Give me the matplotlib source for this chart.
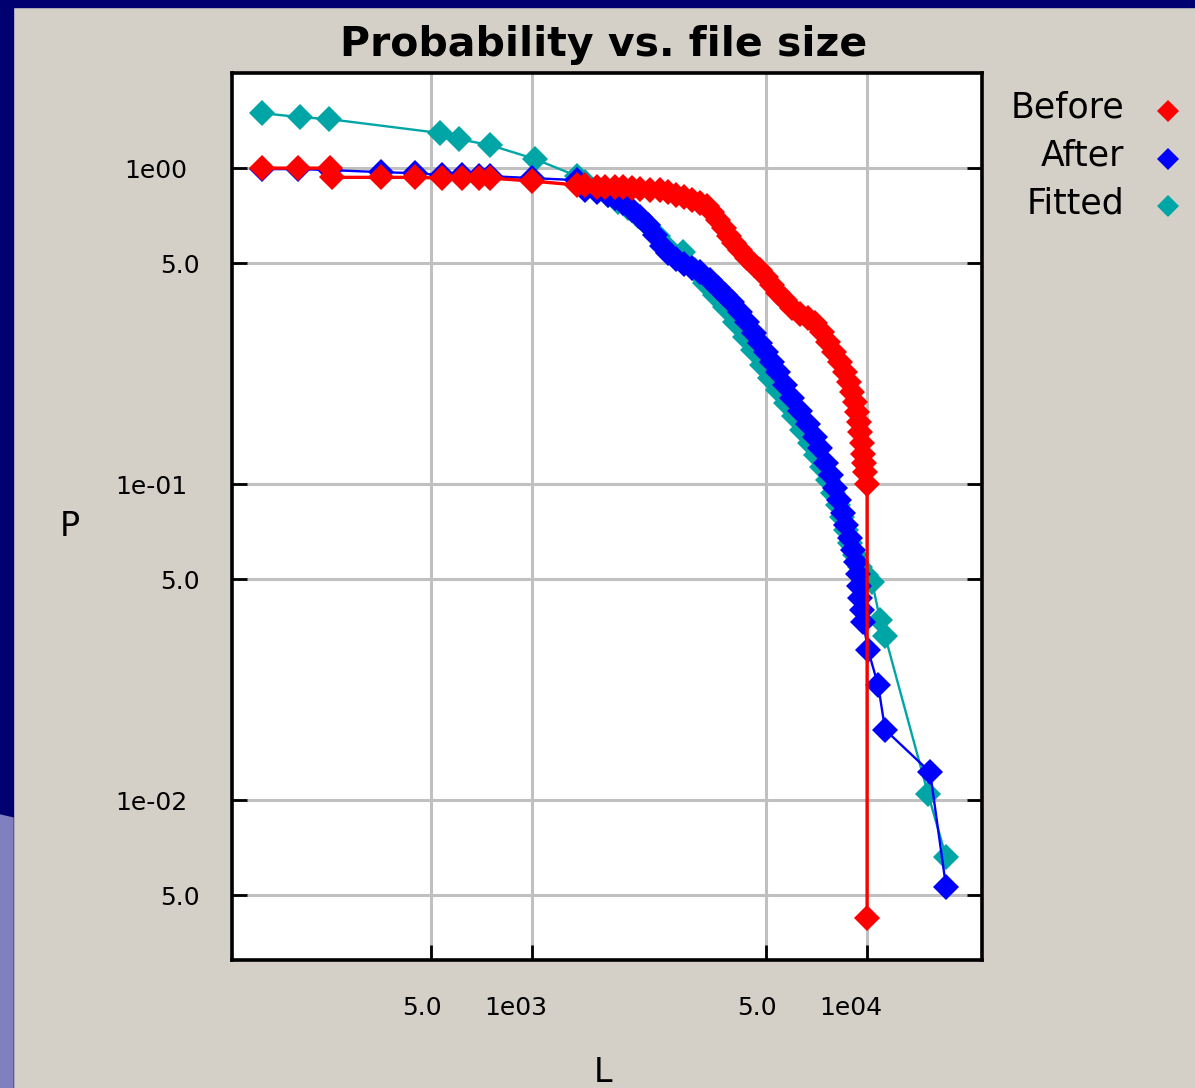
import matplotlib
matplotlib.use("Agg")
import matplotlib.pyplot as plt
from matplotlib.lines import Line2D
from matplotlib.patches import Rectangle, Polygon
from matplotlib.transforms import ScaledTranslation

# ---------------- data ----------------
before_L = [156, 200, 249, 253, 354, 448, 539, 618, 695, 750, 1000, 1362, 1439, 1563,
            1652, 1769, 1869, 1988, 2101, 2250, 2411, 2547, 2691, 2843, 3004, 3172,
            3330, 3446, 3592, 3743, 3874, 4009, 4178, 4384, 4600, 4794, 4995, 5205,
            5424, 5691, 5972, 6310, 6667, 6996, 7340, 7649, 7971, 8307, 8598, 8838,
            9021, 9209, 9336, 9465, 9530, 9663, 9729, 9795, 9863, 10000, 10000]
before_P = [1.0, 1.0, 1.0, 0.935, 0.935, 0.935, 0.93, 0.93, 0.93, 0.93, 0.91, 0.884,
            0.884, 0.871, 0.871, 0.871, 0.871, 0.864, 0.858, 0.852, 0.852, 0.839,
            0.822, 0.810, 0.792, 0.775, 0.758, 0.726, 0.685, 0.646, 0.609, 0.579,
            0.550, 0.519, 0.493, 0.476, 0.452, 0.426, 0.402, 0.382, 0.360, 0.345,
            0.335, 0.323, 0.303, 0.281, 0.262, 0.243, 0.226, 0.210, 0.195, 0.182,
            0.169, 0.157, 0.146, 0.135, 0.125, 0.117, 0.109, 0.100, 0.00423]

after_L = [156, 200, 249, 354, 448, 539, 618, 695, 750, 1000, 1362, 1439, 1563, 1686,
           1769, 1869, 1988, 2101, 2220, 2329, 2444, 2547, 2691, 2843, 3004, 3172,
           3399, 3592, 3769, 3954, 4178, 4384, 4600, 4794, 4995, 5205, 5424, 5691,
           5972, 6310, 6667, 6996, 7237, 7544, 7807, 8025, 8250, 8479, 8656, 8898,
           9083, 9272, 9400, 9465, 9530, 9663, 9729, 10070, 10790, 11320, 15420, 17210]
after_P = [0.993, 0.993, 0.986, 0.971, 0.964, 0.950, 0.950, 0.943, 0.943, 0.930, 0.916,
           0.852, 0.839, 0.822, 0.804, 0.775, 0.736, 0.700, 0.660, 0.614, 0.566,
           0.538, 0.515, 0.497, 0.483, 0.469, 0.442, 0.417, 0.396, 0.377, 0.350,
           0.326, 0.300, 0.279, 0.262, 0.243, 0.226, 0.206, 0.187, 0.171, 0.155,
           0.141, 0.130, 0.117, 0.107, 0.0971, 0.0890, 0.0809, 0.0742, 0.0675,
           0.0618, 0.0566, 0.0519, 0.0475, 0.0436, 0.0399, 0.0366, 0.0298, 0.0231,
           0.0167, 0.01226, 0.00531]

fitted_L = [156, 202, 248, 531, 605, 750, 1021, 1362, 1439, 1563, 1686, 1806, 1935,
            2073, 2220, 2377, 2547, 2823, 3066, 3284, 3518, 3769, 4036, 4323, 4567,
            4860, 5134, 5424, 5731, 6055, 6397, 6759, 7044, 7340, 7649, 7917, 8193,
            8421, 8656, 8898, 9209, 9530, 9931, 10350, 10940, 11320, 15210, 17210]
fitted_P = [1.493, 1.450, 1.429, 1.291, 1.235, 1.182, 1.068, 0.943, 0.903, 0.864,
            0.822, 0.781, 0.747, 0.705, 0.660, 0.609, 0.558, 0.542, 0.476, 0.433,
            0.396, 0.363, 0.326, 0.292, 0.265, 0.238, 0.216, 0.198, 0.180, 0.164,
            0.148, 0.135, 0.1235, 0.1132, 0.1030, 0.0937, 0.0858, 0.0786, 0.0715,
            0.0650, 0.0596, 0.0546, 0.0515, 0.0490, 0.0371, 0.0330, 0.01045, 0.0066]

series_names = ["Before", "After", "Fitted"]
series_colors = ["#ff0000", "#0000ff", "#00a5a5"]

x_major = [1000, 10000]
x_major_labels = ["1e03", "1e04"]
x_minor = [500, 5000]
x_minor_labels = ["5.0", "5.0"]
y_major = [1.0, 0.1, 0.01]
y_major_labels = ["1e00", "1e-01", "1e-02"]
y_minor = [0.5, 0.05, 0.005]
y_minor_labels = ["5.0", "5.0", "5.0"]

# ---------------- figure ----------------
W, H = 1195, 1088
fig = plt.figure(figsize=(W / 100, H / 100), dpi=100, facecolor="#d4d0c8")
plt.rcParams["font.family"] = ["DejaVu Sans"]

# slide-like decorations
navy = "#000070"
fig.patches.append(Rectangle((0, 0), 13 / W, 1, transform=fig.transFigure, color=navy, zorder=0))
fig.patches.append(Rectangle((0, 1 - 7 / H), 1, 7 / H, transform=fig.transFigure, color=navy, zorder=0))
fig.patches.append(Polygon([(0, 0), (13 / W, 0), (13 / W, 1 - 818 / H), (0, 1 - 815 / H)],
                           closed=True, transform=fig.transFigure, color="#8080c0", zorder=1))

ax = fig.add_axes([232 / W, 1 - 960 / H, 750 / W, 887 / H])
ax.set_facecolor("white")
ax.set_xscale("log")
ax.set_yscale("log")
ax.set_xlim(127, 22030)
ax.set_ylim(0.00312, 2.0)

ms = 13
ax.plot(fitted_L, fitted_P, color=series_colors[2], lw=1.7, marker="D", ms=ms,
        markeredgewidth=0, zorder=3)
ax.plot(after_L, after_P, color=series_colors[1], lw=1.7, marker="D", ms=ms,
        markeredgewidth=0, zorder=4)
ax.plot(before_L, before_P, color=series_colors[0], lw=2.4, marker="D", ms=ms,
        markeredgewidth=0, zorder=5)

# ticks
ax.set_xticks(x_major, x_major_labels)
ax.set_xticks(x_minor, x_minor_labels, minor=True)
ax.set_yticks(y_major, y_major_labels)
ax.set_yticks(y_minor, y_minor_labels, minor=True)
ax.tick_params(axis="both", which="both", direction="in", length=11, width=2,
               labelsize=18, colors="black", right=True, top=False)
ax.tick_params(axis="y", which="major", pad=32)
ax.tick_params(axis="y", which="minor", pad=23)
ax.tick_params(axis="x", which="both", pad=26)

for lab in ax.get_xticklabels(which="major"):
    lab.set_transform(lab.get_transform() + ScaledTranslation(-16 / 100, 0, fig.dpi_scale_trans))
for lab in ax.get_xticklabels(which="minor"):
    lab.set_transform(lab.get_transform() + ScaledTranslation(-9 / 100, 0, fig.dpi_scale_trans))

ax.grid(True, which="both", color="#c0c0c0", lw=2.2)
ax.set_axisbelow(True)
for sp in ax.spines.values():
    sp.set_linewidth(2.6)
    sp.set_color("black")

ax.set_ylabel("P", rotation=0, fontsize=24, va="center", ha="center")
ax.yaxis.set_label_coords((70 - 232) / 750, (960 - 527) / 887)
ax.set_xlabel("L", fontsize=24, va="center", ha="center")
ax.xaxis.set_label_coords((603 - 232) / 750, (960 - 1073) / 887)

fig.text(604 / W, 1 - 45 / H, "Probability vs. file size", ha="center", va="center",
         fontsize=29.5, fontweight="bold")

# legend (right-aligned names with diamond markers)
leg_y = [108, 156, 203]
for name, col, y in zip(series_names, series_colors, leg_y):
    fig.text(1124 / W, 1 - y / H, name, ha="right", va="center", fontsize=25)
    fig.add_artist(Line2D([1168 / W], [1 - (y + 3) / H], transform=fig.transFigure,
                          marker="D", ms=11, color=col, markeredgewidth=0, linestyle="none"))

fig.savefig("out.png", dpi=100, facecolor=fig.get_facecolor())
